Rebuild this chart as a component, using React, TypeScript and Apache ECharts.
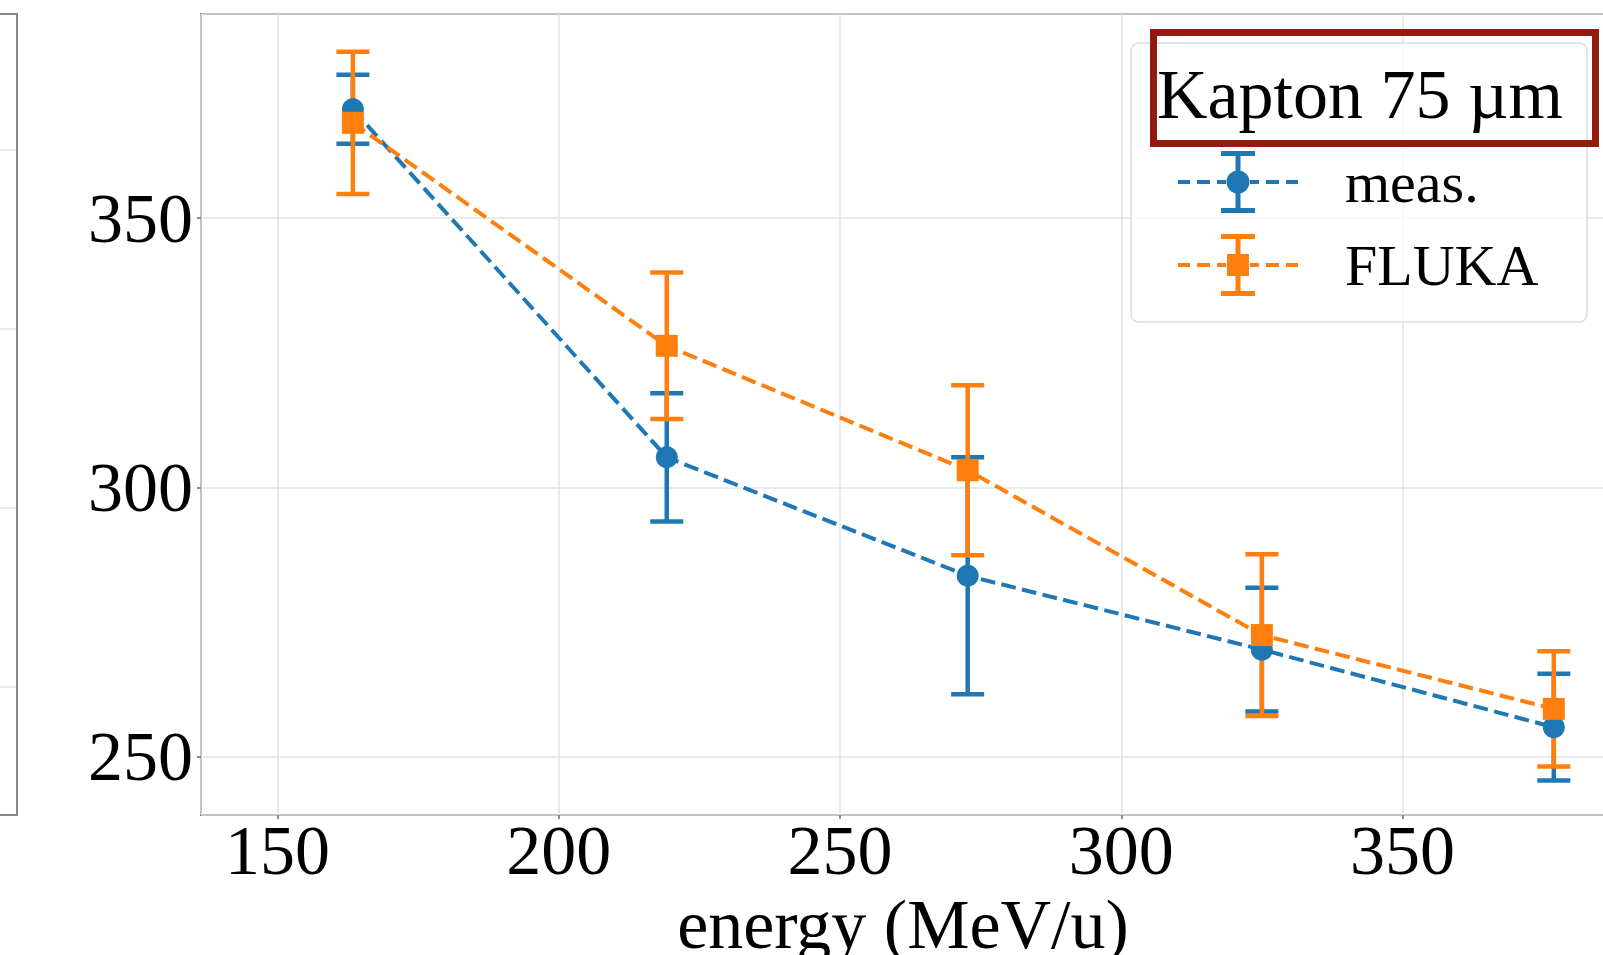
import React, { useEffect, useRef } from "react";
import * as echarts from "echarts";

// ---- data ----
const energy = [163.4, 219.2, 272.7, 325.0, 376.9];
const measValues = [370.2, 305.6, 283.6, 269.9, 255.5];
const measErrors = [6.4, 11.9, 22.0, 11.5, 9.9];
const flukaValues = [367.7, 326.3, 303.2, 272.6, 258.9];
const flukaErrors = [13.2, 13.6, 15.8, 15.0, 10.7];
const seriesNames = ["meas.", "FLUKA"];
const legendTitle = "Kapton 75 µm";
const xAxisName = "energy (MeV/u)";

const BLUE = "#1f77b4";
const ORANGE = "#ff7f0e";
const FONT = '"Liberation Serif", "Times New Roman", serif';

const dashes =
  "M0 29H12V33H0Z M19 29H32V33H19Z M39 29H48V33H39Z M72 29H81V33H72Z M88 29H101V33H88Z M108 29H120V33H108Z";
const errIcon = "M57.5 0H62.5V62H57.5Z M43 0H77V5H43Z M43 57H77V62H43Z";
const circleIconPath =
  "path://" + dashes + " " + errIcon + " M48.5 31A11.5 11.5 0 1 1 71.5 31A11.5 11.5 0 1 1 48.5 31Z";
const squareIconPath = "path://" + dashes + " " + errIcon + " M49 20H71V42H49Z";

function errorSeries(name: string, values: number[], errors: number[], color: string) {
  return {
    type: "custom",
    name,
    data: energy.map((e, i) => [e, values[i] - errors[i], values[i] + errors[i]]),
    encode: { x: 0, y: [1, 2] },
    renderItem: (params: any, api: any) => {
      const x = api.value(0);
      const lo = api.value(1);
      const hi = api.value(2);
      const pTop = api.coord([x, hi]);
      const pBot = api.coord([x, lo]);
      const hw = 16.5;
      const style = { stroke: color, lineWidth: 4.5, fill: "none" };
      return {
        type: "group",
        children: [
          { type: "line", shape: { x1: pTop[0], y1: pTop[1], x2: pBot[0], y2: pBot[1] }, style },
          { type: "line", shape: { x1: pTop[0] - hw, y1: pTop[1], x2: pTop[0] + hw, y2: pTop[1] }, style },
          { type: "line", shape: { x1: pBot[0] - hw, y1: pBot[1], x2: pBot[0] + hw, y2: pBot[1] }, style },
        ],
      };
    },
  };
}

function lineSeries(name: string, values: number[], color: string, symbol: string) {
  return {
    type: "line",
    name,
    data: energy.map((e, i) => [e, values[i]]),
    symbol,
    symbolSize: 22,
    showAllSymbol: true,
    itemStyle: { color, borderWidth: 0 },
    lineStyle: { color, width: 4, type: [14.8, 6.4] },
  };
}

export default function App() {
  const ref = useRef<HTMLDivElement>(null);
  useEffect(() => {
    if (!ref.current) return;
    const chart = echarts.init(ref.current, undefined, { renderer: "svg" });
    const axisLabel = { fontSize: 70, fontFamily: FONT, color: "#000" };
    chart.setOption({
      animation: false,
      backgroundColor: "#fff",
      grid: {
        left: 201,
        top: 14,
        right: -2,
        bottom: 140,
        show: true,
        borderColor: "#666",
        borderWidth: 2,
        outerBoundsMode: "none",
      },
      xAxis: {
        type: "value",
        min: 136.4,
        max: 386,
        minInterval: 50,
        maxInterval: 50,
        name: xAxisName,
        nameLocation: "middle",
        nameGap: 66,
        nameTextStyle: { fontSize: 70, fontFamily: FONT, color: "#000" },
        axisLine: { show: false },
        axisTick: { show: true, length: 4, lineStyle: { color: "#666", width: 1.5 } },
        axisLabel: { ...axisLabel, margin: 0, showMinLabel: false, showMaxLabel: false },
        splitLine: { show: true, lineStyle: { color: "#e3e3e3", width: 1.5 } },
      },
      yAxis: {
        type: "value",
        min: 239.2,
        max: 387.9,
        minInterval: 50,
        maxInterval: 50,
        axisLine: { show: false },
        axisTick: { show: true, length: 4, lineStyle: { color: "#666", width: 1.5 } },
        axisLabel: { ...axisLabel, margin: 8, showMinLabel: false, showMaxLabel: false },
        splitLine: { show: true, lineStyle: { color: "#e3e3e3", width: 1.5 } },
      },
      legend: {
        orient: "vertical",
        left: 1178,
        top: 151,
        padding: 0,
        itemWidth: 120,
        itemHeight: 62,
        itemGap: 21,
        z: 6,
        itemStyle: { borderWidth: 0 },
        textStyle: { fontSize: 58, fontFamily: FONT, color: "#000", padding: [0, 0, 0, 42] },
        data: [
          { name: seriesNames[0], icon: circleIconPath, itemStyle: { color: BLUE, borderWidth: 0 } },
          { name: seriesNames[1], icon: squareIconPath, itemStyle: { color: ORANGE, borderWidth: 0 } },
        ],
      },
      graphic: [
        {
          type: "polyline",
          shape: { points: [[0, 14], [17, 14], [17, 815], [0, 815]] },
          style: { stroke: "#888", lineWidth: 2, fill: "none" },
          z: 1,
        },
        ...[150, 329, 508, 687].map((y) => ({
          type: "line",
          shape: { x1: 0, y1: y, x2: 16, y2: y },
          style: { stroke: "#e3e3e3", lineWidth: 1.5 },
          z: 1,
        })),
        {
          type: "rect",
          shape: { x: 1131, y: 43, width: 456, height: 279, r: 8 },
          style: { fill: "rgba(255,255,255,0.8)", stroke: "#dcdcdc", lineWidth: 1.5 },
          z: 5,
        },
        {
          type: "text",
          x: 1157,
          y: 94.5,
          style: {
            text: legendTitle,
            font: `70px ${FONT}`,
            fill: "#000",
            align: "left",
            verticalAlign: "middle",
          },
          z: 7,
        },
        {
          type: "rect",
          shape: { x: 1153.5, y: 32.5, width: 442, height: 111 },
          style: { fill: "none", stroke: "#921a0e", lineWidth: 7 },
          z: 8,
        },
      ],
      series: [
        errorSeries("meas. err", measValues, measErrors, BLUE),
        lineSeries(seriesNames[0], measValues, BLUE, "circle"),
        errorSeries("FLUKA err", flukaValues, flukaErrors, ORANGE),
        lineSeries(seriesNames[1], flukaValues, ORANGE, "rect"),
      ],
    });
    return () => chart.dispose();
  }, []);
  return (
    <div
      style={{ position: "fixed", left: 0, top: 0, width: 1603, height: 955, overflow: "hidden", background: "#fff" }}
    >
      <div ref={ref} style={{ width: 1603, height: 955 }} />
    </div>
  );
}
